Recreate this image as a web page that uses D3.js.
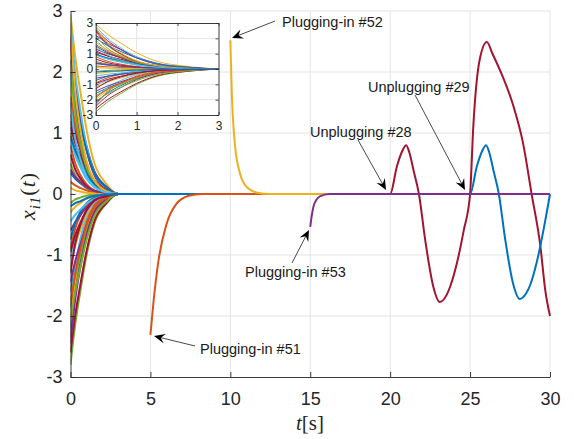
<!DOCTYPE html>
<html>
<head>
<meta charset="utf-8">
<script src="https://cdn.jsdelivr.net/npm/d3@7"></script>
<style>
  body { margin: 0; background: #fff; }
  svg { display: block; font-family: 'Liberation Sans', Arial, sans-serif; }
</style>
</head>
<body>
<svg id="chart" width="574" height="439"></svg>
<script>
// MATLAB default colour order, agent i takes colour (i - 1) % 7
const colorOrder = ['#0072BD', '#D95319', '#EDB120', '#7E2F8E', '#77AC30', '#4DBEEE', '#A2142F']

const xTicks = [0, 5, 10, 15, 20, 25, 30]
const yTicks = [-3, -2, -1, 0, 1, 2, 3]
const insetXTicks = [0, 1, 2, 3]

// sample times shared by the 50 initial agents
const decayTimes = [0, 0.3, 0.6, 1, 1.5, 2.2, 3, 30]
const agentValues = [
  [0.35, 0.25, 0.18, 0.10, 0.04, 0.01, 0, 0],
  [-0.9, -0.56, -0.36, -0.18, -0.07, -0.02, 0, 0],
  [2.95, 2.24, 1.71, 1.06, 0.5, 0.18, 0, 0],
  [1.2, 0.84, 0.6, 0.34, 0.14, 0.05, 0, 0],
  [-2.8, -2.13, -1.62, -1.01, -0.48, -0.17, 0, 0],
  [1.9, 1.18, 0.76, 0.38, 0.15, 0.04, 0, 0],
  [2.6, 1.82, 1.3, 0.73, 0.31, 0.1, 0, 0],
  [-1.6, -1.22, -0.93, -0.58, -0.27, -0.1, 0, 0],
  [0.8, 0.5, 0.32, 0.16, 0.06, 0.02, 0, 0],
  [-0.3, -0.21, -0.15, -0.08, -0.04, -0.01, 0, 0],
  [2.2, 1.67, 1.28, 0.79, 0.37, 0.13, 0, 0],
  [1.0, 0.7, 0.5, 0.28, 0.12, 0.04, 0, 0],
  [-1.9, -1.18, -0.76, -0.38, -0.15, -0.04, 0, 0],
  [-2.6, -1.98, -1.51, -0.94, -0.44, -0.16, 0, 0],
  [1.5, 1.05, 0.75, 0.42, 0.18, 0.06, 0, 0],
  [2.45, 1.52, 0.98, 0.49, 0.2, 0.05, 0, 0],
  [-1.2, -0.84, -0.6, -0.34, -0.14, -0.05, 0, 0],
  [-0.6, -0.46, -0.35, -0.22, -0.1, -0.04, 0, 0],
  [0.5, 0.31, 0.2, 0.1, 0.04, 0.01, 0, 0],
  [2.8, 1.96, 1.4, 0.78, 0.34, 0.11, 0, 0],
  [1.3, 0.99, 0.75, 0.47, 0.22, 0.08, 0, 0],
  [-2.2, -1.54, -1.1, -0.62, -0.26, -0.09, 0, 0],
  [-2.35, -1.46, -0.94, -0.47, -0.19, -0.05, 0, 0],
  [1.75, 1.23, 0.88, 0.49, 0.21, 0.07, 0, 0],
  [-1.45, -1.1, -0.84, -0.52, -0.25, -0.09, 0, 0],
  [-0.15, -0.09, -0.06, -0.03, -0.01, 0, 0, 0],
  [0.9, 0.63, 0.45, 0.25, 0.11, 0.04, 0, 0],
  [1.1, 0.84, 0.64, 0.4, 0.19, 0.07, 0, 0],
  [-0.75, -0.47, -0.3, -0.15, -0.06, -0.02, 0, 0],
  [0.2, 0.14, 0.1, 0.06, 0.02, 0.01, 0, 0],
  [-2.0, -1.4, -1.0, -0.56, -0.24, -0.08, 0, 0],
  [2.55, 1.58, 1.02, 0.51, 0.2, 0.05, 0, 0],
  [-1.75, -1.33, -1.02, -0.63, -0.3, -0.11, 0, 0],
  [-1.05, -0.74, -0.53, -0.29, -0.13, -0.04, 0, 0],
  [0.65, 0.4, 0.26, 0.13, 0.05, 0.01, 0, 0],
  [2.0, 1.52, 1.16, 0.72, 0.34, 0.12, 0, 0],
  [1.6, 1.12, 0.8, 0.45, 0.19, 0.06, 0, 0],
  [0.1, 0.06, 0.04, 0.02, 0.01, 0, 0, 0],
  [-2.45, -1.72, -1.23, -0.69, -0.29, -0.1, 0, 0],
  [2.15, 1.33, 0.86, 0.43, 0.17, 0.04, 0, 0],
  [-0.45, -0.34, -0.26, -0.16, -0.08, -0.03, 0, 0],
  [-1.3, -0.81, -0.52, -0.26, -0.1, -0.03, 0, 0],
  [0.95, 0.72, 0.55, 0.34, 0.16, 0.06, 0, 0],
  [-1.85, -1.3, -0.93, -0.52, -0.22, -0.07, 0, 0],
  [2.7, 1.67, 1.08, 0.54, 0.22, 0.05, 0, 0],
  [0.4, 0.28, 0.2, 0.11, 0.05, 0.02, 0, 0],
  [-2.1, -1.6, -1.22, -0.76, -0.36, -0.13, 0, 0],
  [1.45, 0.9, 0.58, 0.29, 0.12, 0.03, 0, 0],
  [-0.95, -0.67, -0.48, -0.27, -0.11, -0.04, 0, 0],
  [-0.2, -0.15, -0.12, -0.07, -0.03, -0.01, 0, 0]
]

// agents 28 and 29 after they are unplugged
const unplug28Times = [20, 20.42, 20.75, 21, 21.2, 21.46, 21.8, 22.2, 22.7, 23.1, 23.5, 23.75, 24.17, 24.6, 25, 25.2, 25.6, 26.05, 26.4, 27, 27.7, 28.3, 28.85, 29.4, 29.7, 30]
const unplug28Values = [0, 0.45, 0.7, 0.8, 0.68, 0.39, 0, -0.77, -1.52, -1.77, -1.67, -1.52, -1.14, -0.6, 0, 1.1, 2.2, 2.49, 2.3, 1.95, 1.45, 0.85, 0, -0.86, -1.57, -2.0]
const unplug29Times = [25, 25.42, 25.75, 26, 26.2, 26.46, 26.8, 27.2, 27.7, 28.1, 28.5, 28.75, 29.17, 29.6, 30]
const unplug29Values = [0, 0.45, 0.7, 0.8, 0.68, 0.39, 0, -0.75, -1.48, -1.72, -1.63, -1.5, -1.12, -0.58, 0]

// agents plugged in later
const plug51Times = [5, 5.2, 5.5, 6.0, 6.6, 7.4, 8.2, 30]
const plug51Values = [-2.31, -1.75, -1.1, -0.5, -0.17, -0.03, 0, 0]
const plug52Times = [10, 10.1, 10.3, 10.6, 11.0, 11.7, 12.5, 30]
const plug52Values = [2.52, 1.6, 0.78, 0.34, 0.12, 0.02, 0, 0]
const plug53Times = [15, 15.08, 15.2, 15.4, 15.6, 16.2, 30]
const plug53Values = [-0.54, -0.38, -0.21, -0.09, -0.04, 0, 0]

const notes = [
  { text: 'Plugging-in #52', tx: 282, ty: 22, from: [275, 21], to: [232, 38] },
  { text: 'Unplugging #29', tx: 368, ty: 87, from: [415, 95], to: [465, 190] },
  { text: 'Unplugging #28', tx: 310, ty: 132, from: [358, 140], to: [386, 190] },
  { text: 'Plugging-in #53', tx: 245, ty: 272, from: [292, 263], to: [309, 230] },
  { text: 'Plugging-in #51', tx: 200, ty: 349, from: [195, 346], to: [154, 336] }
]

const toPoints = (times, values) => times.map((t, k) => ({ t, v: values[k] }))

const series = agentValues.map((vals, i) => {
  const id = i + 1
  let pts = toPoints(decayTimes, vals)
  if (id === 28) pts = pts.filter(p => p.t <= 3).concat(toPoints(unplug28Times, unplug28Values))
  if (id === 29) pts = pts.filter(p => p.t <= 3).concat(toPoints(unplug29Times, unplug29Values))
  return { id, color: colorOrder[i % 7], pts }
})
const plugged = [
  toPoints(plug51Times, plug51Values),
  toPoints(plug52Times, plug52Values),
  toPoints(plug53Times, plug53Values)
].map((pts, j) => ({ id: 51 + j, color: colorOrder[(50 + j) % 7], pts }))

const axisColor = '#262626'
const gridColor = '#e3e3e3'

const svg = d3.select('#chart')
const x = d3.scaleLinear().domain([0, 30]).range([70.5, 550])
const y = d3.scaleLinear().domain([-3, 3]).range([377, 11])

// grid
const grid = svg.append('g').attr('class', 'grid')
grid.selectAll('.gx').data(xTicks.slice(1)).join('line')
  .attr('x1', d => x(d)).attr('x2', d => x(d))
  .attr('y1', y(-3)).attr('y2', y(3))
  .attr('stroke', gridColor)
grid.selectAll('.gy').data(yTicks.slice(1)).join('line')
  .attr('x1', x(0)).attr('x2', x(30))
  .attr('y1', d => y(d)).attr('y2', d => y(d))
  .attr('stroke', gridColor)

svg.append('clipPath').attr('id', 'plotClip')
  .append('rect')
  .attr('x', x(0)).attr('y', y(3) - 2)
  .attr('width', x(30) - x(0) + 1).attr('height', y(-3) - y(3) + 4)

const line = d3.line()
  .x(d => x(d.t))
  .y(d => y(d.v))
  .curve(d3.curveMonotoneX)

svg.append('g')
  .attr('clip-path', 'url(#plotClip)')
  .selectAll('path')
  .data(series.concat(plugged))
  .join('path')
  .attr('d', d => line(d.pts))
  .attr('fill', 'none')
  .attr('stroke', d => d.color)
  .attr('stroke-width', 2)
  .attr('stroke-linejoin', 'round')

// axes (box off, ticks pointing inwards)
const fmt = d => String(d)
const xAxis = svg.append('g')
  .attr('transform', `translate(0,${y(-3)})`)
  .call(d3.axisBottom(x).tickValues(xTicks).tickFormat(fmt).tickSizeInner(-5).tickSizeOuter(0).tickPadding(15.5))
const yAxis = svg.append('g')
  .attr('transform', `translate(${x(0)},0)`)
  .call(d3.axisLeft(y).tickValues(yTicks).tickFormat(fmt).tickSizeInner(-5).tickSizeOuter(0).tickPadding(8))

for (const ax of [xAxis, yAxis]) {
  ax.select('.domain').attr('stroke', axisColor).attr('stroke-width', 0.9)
  ax.selectAll('.tick line').attr('stroke', axisColor).attr('stroke-width', 0.9)
  ax.selectAll('.tick text')
    .attr('fill', axisColor)
    .style('font-size', '18px')
    .style('font-family', "'Liberation Sans', Arial, sans-serif")
}

// axis labels
svg.append('text')
  .attr('x', 310).attr('y', 430)
  .attr('text-anchor', 'middle')
  .style('font-family', "'Liberation Serif', 'Times New Roman', serif")
  .style('font-size', '21px')
  .attr('fill', axisColor)
  .call(t => {
    t.append('tspan').style('font-style', 'italic').text('t')
    t.append('tspan').text('[s]')
  })

svg.append('text')
  .attr('transform', 'translate(35,196) rotate(-90)')
  .attr('text-anchor', 'middle')
  .style('font-family', "'Liberation Serif', 'Times New Roman', serif")
  .style('font-size', '22px')
  .style('letter-spacing', '1px')
  .attr('fill', axisColor)
  .call(t => {
    t.append('tspan').style('font-style', 'italic').text('x')
    t.append('tspan').style('font-style', 'italic').style('font-size', '15px').attr('dy', 5).text('i1')
    t.append('tspan').attr('dy', -5).text('(')
    t.append('tspan').style('font-style', 'italic').text('t')
    t.append('tspan').text(')')
  })

// inset with the first 3 seconds
const xi = d3.scaleLinear().domain([0, 3]).range([95.7, 218.5])
const yi = d3.scaleLinear().domain([-3, 3]).range([115, 23])
const inset = svg.append('g').attr('class', 'inset')

inset.append('rect')
  .attr('x', xi(0)).attr('y', yi(3))
  .attr('width', xi(3) - xi(0)).attr('height', yi(-3) - yi(3))
  .attr('fill', '#fff')

inset.selectAll('.igx').data([1, 2]).join('line')
  .attr('x1', d => xi(d)).attr('x2', d => xi(d))
  .attr('y1', yi(-3)).attr('y2', yi(3))
  .attr('stroke', gridColor)
inset.selectAll('.igy').data([-2, -1, 0, 1, 2]).join('line')
  .attr('x1', xi(0)).attr('x2', xi(3))
  .attr('y1', d => yi(d)).attr('y2', d => yi(d))
  .attr('stroke', gridColor)

svg.append('clipPath').attr('id', 'insetClip')
  .append('rect')
  .attr('x', xi(0)).attr('y', yi(3))
  .attr('width', xi(3) - xi(0)).attr('height', yi(-3) - yi(3))

const insetLine = d3.line()
  .x(d => xi(d.t))
  .y(d => yi(d.v))
  .curve(d3.curveMonotoneX)

inset.append('g')
  .attr('clip-path', 'url(#insetClip)')
  .selectAll('path')
  .data(series)
  .join('path')
  .attr('d', d => insetLine(d.pts.filter(p => p.t <= 3)))
  .attr('fill', 'none')
  .attr('stroke', d => d.color)
  .attr('stroke-width', 1)

const ixAxis = inset.append('g')
  .attr('transform', `translate(0,${yi(-3)})`)
  .call(d3.axisBottom(xi).tickValues(insetXTicks).tickFormat(fmt).tickSizeInner(-3).tickSizeOuter(0).tickPadding(6))
const iyAxis = inset.append('g')
  .attr('transform', `translate(${xi(0)},0)`)
  .call(d3.axisLeft(yi).tickValues(yTicks).tickFormat(fmt).tickSizeInner(-3).tickSizeOuter(0).tickPadding(2.5))
const ixTop = inset.append('g')
  .attr('transform', `translate(0,${yi(3)})`)
  .call(d3.axisTop(xi).tickValues(insetXTicks).tickFormat('').tickSizeInner(-3).tickSizeOuter(0))
const iyRight = inset.append('g')
  .attr('transform', `translate(${xi(3)},0)`)
  .call(d3.axisRight(yi).tickValues(yTicks).tickFormat('').tickSizeInner(-3).tickSizeOuter(0))

for (const ax of [ixAxis, iyAxis, ixTop, iyRight]) {
  ax.select('.domain').attr('stroke', axisColor).attr('stroke-width', 0.9)
  ax.selectAll('.tick line').attr('stroke', axisColor).attr('stroke-width', 0.8)
  ax.selectAll('.tick text')
    .attr('fill', axisColor)
    .style('font-size', '12px')
    .style('font-family', "'Liberation Sans', Arial, sans-serif")
}

// annotation arrows
const ann = svg.append('g').attr('class', 'annotations')
notes.forEach(n => {
  const [x1, y1] = n.from
  const [x2, y2] = n.to
  const ang = Math.atan2(y2 - y1, x2 - x1)
  const len = Math.hypot(x2 - x1, y2 - y1)
  ann.append('line')
    .attr('x1', x1).attr('y1', y1)
    .attr('x2', x1 + Math.cos(ang) * (len - 6)).attr('y2', y1 + Math.sin(ang) * (len - 6))
    .attr('stroke', '#333')
    .attr('stroke-width', 0.9)
  ann.append('path')
    .attr('d', 'M0,0 L-11,-4.8 L-7,0 L-11,4.8 Z')
    .attr('transform', `translate(${x2},${y2}) rotate(${ang * 180 / Math.PI})`)
    .attr('fill', '#000')
  ann.append('text')
    .attr('x', n.tx).attr('y', n.ty)
    .attr('dy', '0.35em')
    .style('font-size', '14.5px')
    .attr('fill', '#1a1a1a')
    .text(n.text)
})
</script>
</body>
</html>
